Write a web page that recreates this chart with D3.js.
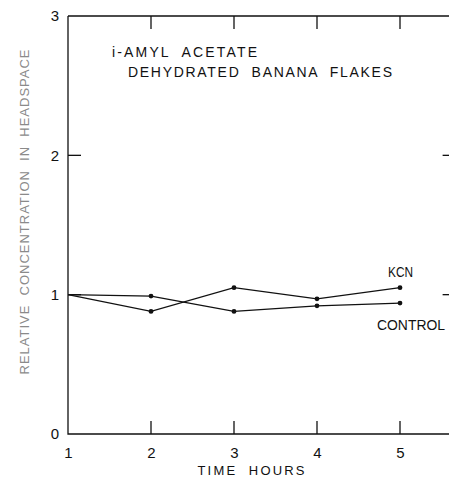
<!DOCTYPE html>
<html>
<head>
<meta charset="utf-8">
<script src="https://cdn.jsdelivr.net/npm/d3@7"></script>
<style>
  body { margin: 0; background: #fff; }
  text { font-family: "Liberation Sans", Arial, sans-serif; fill: #111; white-space: pre; }
</style>
</head>
<body>
<div id="chart"></div>
<script>
// values
const hours = [1, 2, 3, 4, 5];
const kcn = [1.0, 0.88, 1.05, 0.97, 1.05];
const control = [1.0, 0.99, 0.88, 0.92, 0.94];
const xTicks = [1, 2, 3, 4, 5];
const yTicks = [0, 1, 2, 3];
const titleLines = ["i-AMYL  ACETATE", "DEHYDRATED  BANANA  FLAKES"];

const svgWidth = 449, svgHeight = 477;
const margin = { top: 16, left: 68, bottom: 43 };
const height = svgHeight - margin.top - margin.bottom;

const svg = d3.select("#chart").append("svg")
  .attr("width", svgWidth)
  .attr("height", svgHeight);

// frame runs a bit past the right edge of the picture
const x = d3.scaleLinear().domain([1, 5]).range([margin.left, 400]);
const xMax = 5.67;
const y = d3.scaleLinear().domain([0, 3]).range([margin.top + height, margin.top]);

const tick = 13;

// bottom tick labels
svg.append("g")
  .attr("transform", "translate(0," + y(0) + ")")
  .call(d3.axisBottom(x).tickValues(xTicks).tickSize(0).tickPadding(13).tickFormat(d3.format("d")))
  .call(g => g.select(".domain").remove())
  .call(g => g.selectAll("text").attr("font-size", 15));

// box with inward ticks
const frame = svg.append("g").attr("stroke", "#111").attr("stroke-width", 1.3).attr("fill", "none");
frame.append("path").attr("d", d3.line()([[x(1), y(3)], [x(xMax), y(3)], [x(xMax), y(0)], [x(1), y(0)], [x(1), y(3)]]));

xTicks.filter(d => d > 1).forEach(d => {
  frame.append("line").attr("x1", x(d)).attr("x2", x(d)).attr("y1", y(0)).attr("y2", y(0) - tick);
  frame.append("line").attr("x1", x(d)).attr("x2", x(d)).attr("y1", y(3)).attr("y2", y(3) + tick);
});
[1, 2].forEach(d => {
  frame.append("line").attr("x1", x(1)).attr("x2", x(1) + tick).attr("y1", y(d)).attr("y2", y(d));
  frame.append("line").attr("x1", x(xMax)).attr("x2", x(xMax) - tick).attr("y1", y(d)).attr("y2", y(d));
});

// left tick labels
svg.append("g")
  .attr("transform", "translate(" + x(1) + ",0)")
  .call(d3.axisLeft(y).tickValues(yTicks).tickSize(0).tickPadding(9).tickFormat(d3.format("d")))
  .call(g => g.select(".domain").remove())
  .call(g => g.selectAll("text").attr("font-size", 15));

// series
const line = d3.line().x((d, i) => x(hours[i])).y(d => y(d));
[kcn, control].forEach(series => {
  svg.append("path")
    .datum(series)
    .attr("fill", "none")
    .attr("stroke", "#111")
    .attr("stroke-width", 1.2)
    .attr("d", line);
  svg.selectAll(null)
    .data(series.slice(1))
    .join("circle")
    .attr("cx", (d, i) => x(hours[i + 1]))
    .attr("cy", d => y(d))
    .attr("r", 2.4)
    .attr("fill", "#111");
});

// series labels
svg.append("text").attr("x", 388).attr("y", 277).attr("font-size", 14)
  .attr("textLength", 25).attr("lengthAdjust", "spacingAndGlyphs").text("KCN");
svg.append("text").attr("x", 377).attr("y", 330).attr("font-size", 14)
  .attr("textLength", 68).attr("lengthAdjust", "spacingAndGlyphs").text("CONTROL");

// title
svg.append("text").attr("x", 112).attr("y", 57).attr("font-size", 14)
  .attr("textLength", 145).attr("lengthAdjust", "spacing").text(titleLines[0]);
svg.append("text").attr("x", 128).attr("y", 77).attr("font-size", 14)
  .attr("textLength", 264).attr("lengthAdjust", "spacing").text(titleLines[1]);

// axis titles
svg.append("text")
  .attr("x", 251).attr("y", 475)
  .attr("text-anchor", "middle").attr("font-size", 13)
  .attr("textLength", 107).attr("lengthAdjust", "spacing")
  .text("TIME  HOURS");

svg.append("text")
  .attr("transform", "translate(29,212) rotate(-90)")
  .attr("text-anchor", "middle").attr("font-size", 13)
  .attr("textLength", 325).attr("lengthAdjust", "spacing")
  .style("fill", "#8a8a8a")
  .text("RELATIVE  CONCENTRATION  IN  HEADSPACE");
</script>
</body>
</html>
